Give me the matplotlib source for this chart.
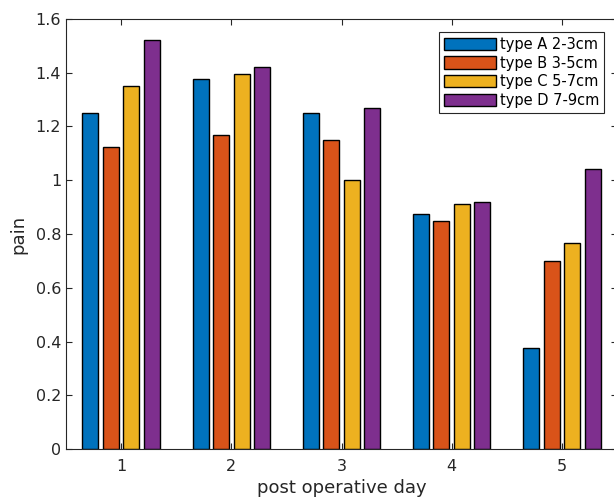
import matplotlib
matplotlib.use('Agg')
import matplotlib.pyplot as plt
import numpy as np

# values
days = [1, 2, 3, 4, 5]
type_a = [1.25, 1.375, 1.25, 0.875, 0.375]
type_b = [1.125, 1.17, 1.15, 0.85, 0.70]
type_c = [1.35, 1.395, 1.0, 0.91, 0.765]
type_d = [1.52, 1.42, 1.27, 0.92, 1.04]
labels = ['type A 2-3cm', 'type B 3-5cm', 'type C 5-7cm', 'type D 7-9cm']
colors = ['#0072BD', '#D95319', '#EDB120', '#7E2F8E']
y_ticks = [0, 0.2, 0.4, 0.6, 0.8, 1, 1.2, 1.4, 1.6]

fig = plt.figure(figsize=(6.14, 5.03), dpi=100)
ax = fig.add_axes([66 / 614, 54 / 503, 551 / 614, 430 / 503])

x = np.array(days, dtype=float)
series = [type_a, type_b, type_c, type_d]
offsets = [-1.5, -0.5, 0.5, 1.5]
step = 0.186
for vals, off, col, lab in zip(series, offsets, colors, labels):
    ax.bar(x + off * step, vals, width=0.145, color=col, edgecolor='black',
           linewidth=1.0, label=lab)

ax.set_xlim(0.5, 5.5)
ax.set_ylim(0, 1.6)
ax.set_xticks(days)
ax.set_xticklabels([str(d) for d in days])
ax.set_yticks(y_ticks)
ax.set_yticklabels(['%g' % t for t in y_ticks])
ax.tick_params(direction='in', top=True, right=True, labelsize=11.5,
               length=4, width=0.8, colors='#262626', labelcolor='#262626')
ax.tick_params(axis='x', pad=7)
for s in ax.spines.values():
    s.set_linewidth(0.8)
    s.set_color('#262626')

ax.set_xlabel('post operative day', fontsize=13, color='#262626', labelpad=4)
ax.set_ylabel('pain', fontsize=13, color='#262626', labelpad=6)

leg = ax.legend(loc='upper right', fontsize=10.5, fancybox=False,
                edgecolor='#262626', framealpha=1, handlelength=3.6,
                handleheight=0.9, handletextpad=0.25, labelspacing=0.26,
                borderpad=0.32, borderaxespad=0.9)
leg.get_frame().set_linewidth(0.8)

fig.savefig('out.png', dpi=100)
